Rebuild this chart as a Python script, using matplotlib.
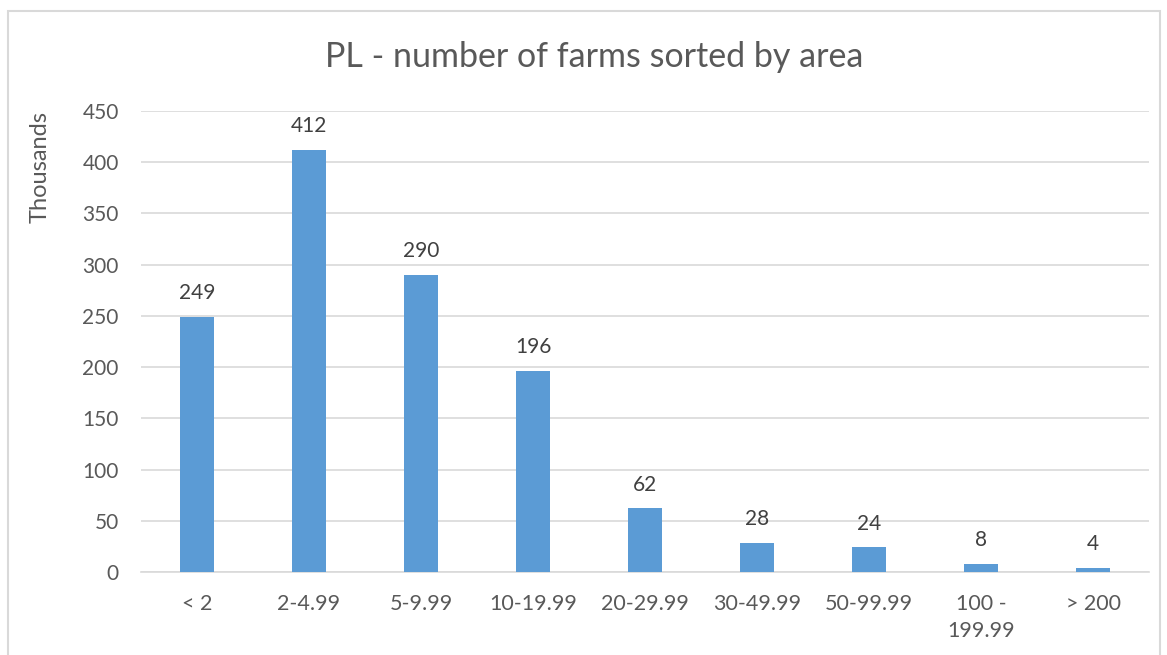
import numpy as np
import matplotlib.pyplot as plt
from matplotlib.patches import Rectangle

# data
categories = ["< 2", "2-4.99", "5-9.99", "10-19.99", "20-29.99",
              "30-49.99", "50-99.99", "100 -\n199.99", "> 200"]
farms = [249, 412, 290, 196, 62, 28, 24, 8, 4]
yticks = [0, 50, 100, 150, 200, 250, 300, 350, 400, 450]

W, H = 1167, 655
txt = "#595959"
plt.rcParams["font.family"] = ["Lato", "DejaVu Sans"]

fig = plt.figure(figsize=(W / 100, H / 100), dpi=100)
ax = fig.add_axes([141 / W, 1 - 572 / H, (1149 - 141) / W, (572 - 111) / H])

x = np.arange(len(categories))
bars = ax.bar(x, farms, width=0.31, color="#5B9BD5", zorder=3)

for xi, v in zip(x, farms):
    ax.annotate(str(v), (xi, v), xytext=(0, 10), textcoords="offset points",
                ha="center", va="bottom", fontsize=15, color="#404040")

ax.set_xlim(-0.5, len(categories) - 0.5)
ax.set_ylim(0, 450)
ax.set_yticks(yticks)
ax.set_xticks(x)
ax.set_xticklabels(categories, fontsize=15.5, color=txt, linespacing=1.45)
ax.tick_params(axis="y", labelsize=15, labelcolor=txt, length=0, pad=16)
ax.tick_params(axis="x", length=0, pad=16)
ax.grid(axis="y", color="#D9D9D9", linewidth=1.2, zorder=0)
for s in ["top", "right", "left"]:
    ax.spines[s].set_visible(False)
ax.spines["bottom"].set_color("#D9D9D9")
ax.spines["bottom"].set_linewidth(1.2)

fig.text(594 / W, 1 - 57 / H, "PL - number of farms sorted by area",
         ha="center", va="center", fontsize=24.5, color=txt)
fig.text(40 / W, 1 - 167 / H, "Thousands", rotation=90,
         ha="center", va="center", fontsize=17, color=txt)

# chart border
fig.patches.append(Rectangle((8 / W, -0.05), (1160 - 8) / W, 1 - 11 / H + 0.05,
                             transform=fig.transFigure, fill=False,
                             edgecolor="#D9D9D9", linewidth=1.5))

fig.savefig("out.png", dpi=100, facecolor="white")
